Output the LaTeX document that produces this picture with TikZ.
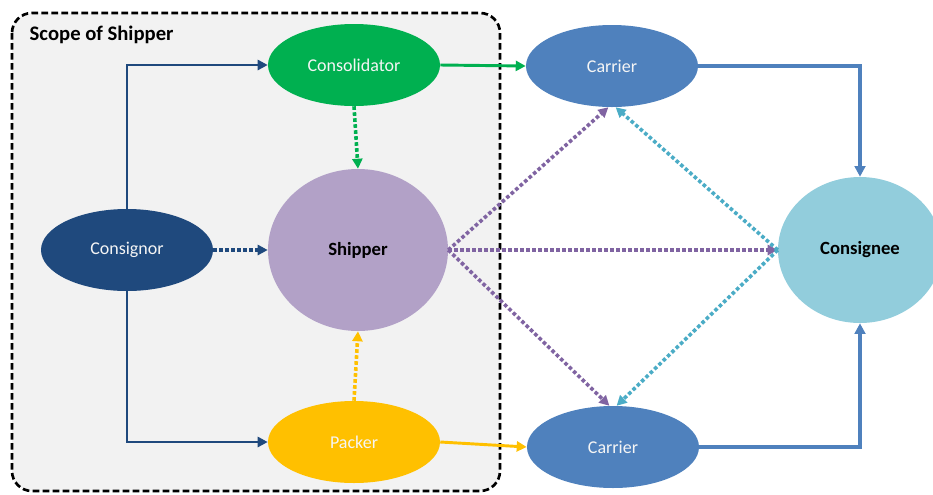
\documentclass[tikz,border=0pt]{standalone}
\usepackage{fontspec}
\setmainfont{Carlito}
\usepackage{tikz}
\usepackage{xcolor}
\usetikzlibrary{shapes.geometric,arrows.meta}

\definecolor{nordblue}{HTML}{1F497D}
\definecolor{consgreen}{HTML}{00B050}
\definecolor{shiplilac}{HTML}{B2A1C7}
\definecolor{packgold}{HTML}{FFC000}
\definecolor{carrblue}{HTML}{4F81BD}
\definecolor{neeblue}{HTML}{92CDDC}
\definecolor{dotviolet}{HTML}{8064A2}
\definecolor{dotcyan}{HTML}{4BACC6}
\definecolor{scopegray}{HTML}{F2F2F2}

\tikzset{
  party/.style={ellipse, draw=none, inner sep=0pt, text=white!92!gray,
    font=\fontsize{13.5}{15}\selectfont, minimum width=129pt, minimum height=61.5pt},
  hub/.style={ellipse, draw=none, inner sep=0pt, text=black,
    font=\fontsize{14}{16}\selectfont\bfseries},
  flow/.style={line width=2.2pt, -{Triangle[length=7.5pt,width=7.5pt]}},
  haul/.style={line width=3.2pt, carrblue, -{Triangle[length=8pt,width=8pt]}},
  hint/.style={line width=2.7pt, dash pattern=on 2.7pt off 1.8pt,
    -{Triangle[length=7.5pt,width=7.5pt]}},
}

\begin{document}
\begin{tikzpicture}[x=0.75pt,y=-0.75pt]
\useasboundingbox (0,0) rectangle (933,494);
\clip (0,0) rectangle (933,494);
% scope of the shipper
\draw[fill=scopegray, line width=2pt, dash pattern=on 5pt off 2.5pt, rounded corners=15pt]
  (12,13) rectangle (500,491);
\node[anchor=west, font=\fontsize{15.5}{17}\selectfont\bfseries] (scope) at (25,35) {Scope of Shipper};
% parties
\node[party, fill=nordblue] (cnor) at (127,250) {Consignor};
\node[party, fill=consgreen] (cons) at (354,65) {Consolidator};
\node[party, fill=packgold] (pack) at (354,442) {Packer};
\node[hub, fill=shiplilac, minimum width=135pt, minimum height=121.5pt] (ship) at (358,250) {Shipper};
\node[party, fill=carrblue] (ctop) at (612,66) {Carrier};
\node[party, fill=carrblue] (cbot) at (613,447) {Carrier};
\node[hub, fill=neeblue, minimum width=123pt, minimum height=109.5pt] (nee) at (860,250) {Consignee};
% goods flow
\draw[flow, nordblue] (cnor.north) |- (cons.west);
\draw[flow, nordblue] (cnor.south) |- (pack.west);
\draw[flow, consgreen] (cons.east) -- (ctop.west);
\draw[flow, packgold] (pack.east) -- (cbot.west);
\draw[haul] (ctop.east) -| (nee.north);
\draw[haul] (cbot.east) -| (nee.south);
% information
\draw[hint, nordblue] (cnor.east) -- (ship.west);
\draw[hint, consgreen] (cons.south) -- (ship.north);
\draw[hint, packgold] (pack.north) -- (ship.south);
\draw[hint, dotviolet] (ship.east) -- (ctop.-95);
\draw[hint, dotviolet] (ship.east) -- (nee.west);
\draw[hint, dotviolet] (ship.east) -- (cbot.95);
\draw[hint, dotcyan] (nee.west) -- (ctop.-85);
\draw[hint, dotcyan] (nee.west) -- (cbot.85);
\end{tikzpicture}
\end{document}
